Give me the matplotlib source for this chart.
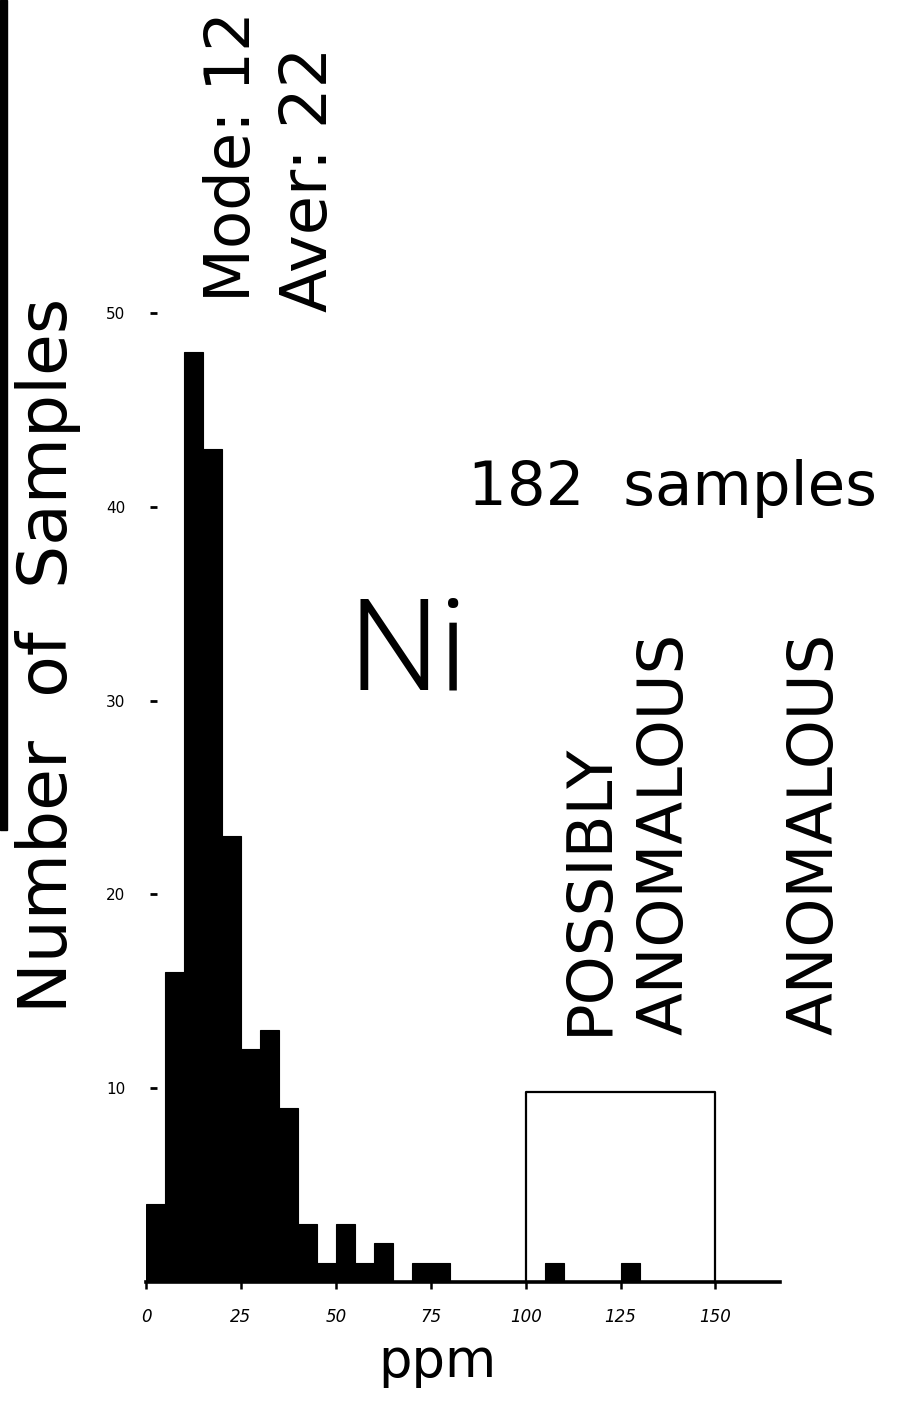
import matplotlib
matplotlib.use("Agg")
import matplotlib.pyplot as plt
from matplotlib.patches import Rectangle

# ---- data ----
bin_starts = [0, 5, 10, 15, 20, 25, 30, 35, 40, 45, 50, 55, 60, 65, 70, 75,
              80, 85, 90, 95, 100, 105, 110, 115, 120, 125]
counts = [4, 16, 48, 43, 23, 12, 13, 9, 3, 1, 3, 1, 2, 0, 1, 1,
          0, 0, 0, 0, 0, 1, 0, 0, 0, 1]
bin_width = 5
x_ticks = [0, 25, 50, 75, 100, 125, 150]
x_tick_labels = ["0", "25", "50", "75", "100", "125", "150"]
y_ticks = [10, 20, 30, 40, 50]
y_tick_labels = ["10", "20", "30", "40", "50"]
box_left, box_right, box_height = 100, 150, 9.8

W, H = 902, 1402
fig = plt.figure(figsize=(W / 100, H / 100), dpi=100)
fig.patch.set_facecolor("white")

def fx(px):
    return px / W

def fy(py):
    return 1 - py / H

ax_left, ax_right, ax_top, ax_bottom = 146, 780, 313, 1282
ax = fig.add_axes([fx(ax_left), fy(ax_bottom), (ax_right - ax_left) / W,
                   (ax_bottom - ax_top) / H])
ax.set_xlim(0, 167)
ax.set_ylim(0, 50)
ax.patch.set_alpha(0)

ax.bar(bin_starts, counts, width=bin_width, align="edge", color="black",
       edgecolor="black", linewidth=0.8, zorder=3)

# anomaly box
ax.plot([box_left, box_left, box_right, box_right],
        [0, box_height, box_height, 0], color="black", lw=1.6, zorder=2,
        clip_on=False)

for s in ["top", "right"]:
    ax.spines[s].set_visible(False)
ax.spines["bottom"].set_linewidth(2.6)
ax.spines["left"].set_visible(False)
ax.spines["left"].set_position(("data", 2.9))

ax.set_xticks(x_ticks)
ax.set_xticklabels(x_tick_labels, fontsize=12, fontstyle="italic")
ax.tick_params(axis="x", direction="out", length=5, width=1.8, pad=14)

ax.set_yticks(y_ticks)
ax.set_yticklabels(y_tick_labels, fontsize=11)
ax.tick_params(axis="y", direction="out", length=5, width=2, pad=18)

fam = "DejaVu Sans"
fig.text(fx(48), fy(655), "Number  of  Samples", rotation=90, fontsize=49,
         ha="center", va="center", family=fam)
fig.text(fx(233), fy(302), "Mode: 12", rotation=90, fontsize=45,
         ha="center", va="bottom", family=fam)
fig.text(fx(309), fy(312), "Aver: 22", rotation=90, fontsize=46,
         ha="center", va="bottom", family=fam)
fig.text(fx(673), fy(488), "182  samples", fontsize=44,
         ha="center", va="center", family=fam)
fig.text(fx(408), fy(690), "Ni", fontsize=92, ha="center", va="baseline",
         family=["Roboto", "DejaVu Sans"], fontweight=300)
fig.text(fx(590), fy(1035), "POSSIBLY", rotation=90, fontsize=45,
         ha="center", va="bottom", family=fam)
fig.text(fx(666), fy(1035), "ANOMALOUS", rotation=90, fontsize=45,
         ha="center", va="bottom", family=fam)
fig.text(fx(816), fy(1035), "ANOMALOUS", rotation=90, fontsize=45,
         ha="center", va="bottom", family=fam)
fig.text(fx(437), fy(1362), "ppm", fontsize=38, ha="center", va="center",
         family=fam)

# scan edge strip
fig.patches.append(Rectangle((0, fy(830)), fx(7), 1 - fy(830),
                             transform=fig.transFigure, color="black"))

fig.savefig("out.png", dpi=100, facecolor="white")
